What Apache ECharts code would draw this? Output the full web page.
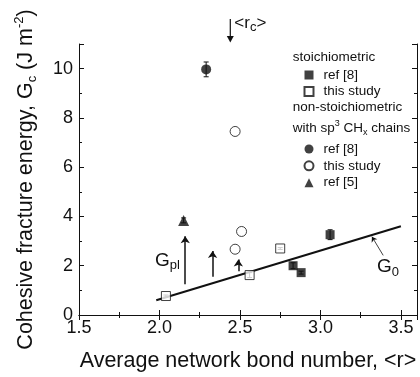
<!DOCTYPE html>
<html>
<head>
<meta charset="utf-8">
<script src="https://cdn.jsdelivr.net/npm/echarts@6/dist/echarts.min.js"></script>
<style>
  html, body { margin: 0; padding: 0; background: #fff; }
  #chart { width: 420px; height: 377px; }
</style>
</head>
<body>
<div id="chart"></div>
<script>
// stoichiometric
const stoichRefX = [2.83, 2.88, 3.06];
const stoichRefY = [2.0, 1.72, 3.26];
const stoichRefErr = [0.12, 0.06, 0.2];
const stoichStudyX = [2.04, 2.56, 2.75];
const stoichStudyY = [0.77, 1.62, 2.7];
const stoichStudyErr = [0.04, 0.1, 0.04];
// non-stoichiometric with sp3 CHx chains
const nonRefX = [2.29];
const nonRefY = [9.97];
const nonRefErr = [0.3];
const nonStudyX = [2.47, 2.51, 2.47];
const nonStudyY = [7.45, 3.39, 2.67];
const ref5X = [2.15];
const ref5Y = [3.84];
const ref5Err = [0.1];
// G0 fit line
const g0X = [1.98, 3.5];
const g0Y = [0.6, 3.6];
// G_pl arrows
const gplX = [2.16, 2.33, 2.49];
const gplFrom = [1.25, 1.55, 1.78];
const gplTo = [3.2, 2.6, 2.25];
// critical <r_c>
const rcX = 2.44;

const font = 'Liberation Sans, Arial, sans-serif';
const ink = '#111';

const zip = (xs, ys) => xs.map((x, i) => [x, ys[i]]);
const zip3 = (xs, ys, es) => xs.map((x, i) => [x, ys[i], es[i]]);

const chart = echarts.init(document.getElementById('chart'));

function errorBar(params, api) {
  const x = api.value(0), y = api.value(1), e = api.value(2);
  const hi = api.coord([x, y + e]);
  const lo = api.coord([x, y - e]);
  const w = 2.5;
  const st = { stroke: ink, lineWidth: 1 };
  return {
    type: 'group',
    children: [
      { type: 'line', shape: { x1: hi[0], y1: hi[1], x2: lo[0], y2: lo[1] }, style: st },
      { type: 'line', shape: { x1: hi[0] - w, y1: hi[1], x2: hi[0] + w, y2: hi[1] }, style: st },
      { type: 'line', shape: { x1: lo[0] - w, y1: lo[1], x2: lo[0] + w, y2: lo[1] }, style: st }
    ]
  };
}

const subRich = {
  sub: { fontSize: 13, fontFamily: font, color: ink, verticalAlign: 'bottom', lineHeight: 13 },
  sup: { fontSize: 13, fontFamily: font, color: ink, verticalAlign: 'top', lineHeight: 13 }
};

const legendNames = {
  s_ref8: 'ref [8]',
  s_study: 'this study',
  n_ref8: 'ref [8]',
  n_study: 'this study',
  ref5: 'ref [5]'
};

const axisCommon = {
  axisLine: { lineStyle: { color: ink, width: 1 } },
  axisTick: { inside: true, length: 5, lineStyle: { color: ink } },
  minorTick: { show: true, splitNumber: 2, length: 3, lineStyle: { color: ink } },
  splitLine: { show: false }
};

const openStyle = { color: '#fff', borderColor: ink, borderWidth: 1 };
const filledStyle = { color: ink };

chart.setOption({
  animation: false,
  grid: { left: 79, top: 44, right: 3, bottom: 60 },
  xAxis: [
    Object.assign({}, axisCommon, {
      type: 'value', min: 1.5, max: 3.6, interval: 0.5,
      axisLabel: {
        fontSize: 18, fontFamily: font, color: ink, margin: 4, showMaxLabel: false,
        formatter: v => v.toFixed(1)
      },
      name: 'Average network bond number, <r>',
      nameLocation: 'middle', nameGap: 35,
      nameTextStyle: { fontSize: 21.5, fontFamily: font, color: ink }
    }),
    Object.assign({}, axisCommon, {
      type: 'value', min: 1.5, max: 3.6, interval: 0.5, position: 'top',
      axisLabel: { show: false }
    })
  ],
  yAxis: [
    Object.assign({}, axisCommon, {
      type: 'value', min: 0, max: 11, interval: 2,
      axisLabel: { fontSize: 18, fontFamily: font, color: ink, margin: 6, showMaxLabel: false },
      name: 'Cohesive fracture energy, G{sub|c} (J m{sup|-2})',
      nameLocation: 'middle', nameGap: 40,
      nameTextStyle: { fontSize: 21.5, fontFamily: font, color: ink, lineHeight: 26, rich: subRich }
    }),
    Object.assign({}, axisCommon, {
      type: 'value', min: 0, max: 11, interval: 2, position: 'right',
      axisLabel: { show: false }
    })
  ],
  legend: [
    {
      data: ['s_ref8', 's_study'],
      orient: 'vertical', left: 303.5, top: 68, padding: 0,
      itemWidth: 9, itemHeight: 9, itemGap: 2.5, selectedMode: false,
      formatter: n => legendNames[n],
      textStyle: { fontSize: 13.5, fontFamily: font, color: ink, lineHeight: 14, padding: [0, 0, 0, 5] }
    },
    {
      data: ['n_ref8', 'n_study', 'ref5'],
      orient: 'vertical', left: 303.5, top: 142, padding: 0,
      itemWidth: 9, itemHeight: 9, itemGap: 2.85, selectedMode: false,
      formatter: n => legendNames[n],
      textStyle: { fontSize: 13.5, fontFamily: font, color: ink, lineHeight: 14, padding: [0, 0, 0, 5] }
    }
  ],
  series: [
    {
      name: 'G0', type: 'line', data: zip(g0X, g0Y), showSymbol: false,
      lineStyle: { color: ink, width: 2 }, z: 2,
      markLine: {
        silent: true, animation: false,
        symbol: ['none', 'arrow'], symbolSize: 7,
        label: { show: false },
        lineStyle: { color: ink, width: 1.5, type: 'solid' },
        data: gplX.map((x, i) => [
          { coord: [x, gplFrom[i]], symbol: 'none' },
          { coord: [x, gplTo[i]], symbol: 'arrow', symbolSize: 7 }
        ]).concat([
          [{ coord: [3.39, 2.42], symbol: 'none' },
           { coord: [3.32, 3.18], symbol: 'arrow', symbolSize: 5, lineStyle: { width: 0.8 } }]
        ])
      }
    },
    {
      type: 'custom', renderItem: errorBar, z: 3,
      data: zip3(stoichRefX, stoichRefY, stoichRefErr)
        .concat(zip3(stoichStudyX, stoichStudyY, stoichStudyErr))
        .concat(zip3(nonRefX, nonRefY, nonRefErr))
        .concat(zip3(ref5X, ref5Y, ref5Err))
    },
    { name: 's_ref8', type: 'scatter', symbol: 'rect', symbolSize: 9, z: 5, itemStyle: filledStyle, data: zip(stoichRefX, stoichRefY) },
    { name: 's_study', type: 'scatter', symbol: 'rect', symbolSize: 9, z: 5, itemStyle: openStyle, data: zip(stoichStudyX, stoichStudyY) },
    { name: 'n_ref8', type: 'scatter', symbol: 'circle', symbolSize: 10, z: 5, itemStyle: filledStyle, data: zip(nonRefX, nonRefY) },
    { name: 'n_study', type: 'scatter', symbol: 'circle', symbolSize: 10, z: 5, itemStyle: openStyle, data: zip(nonStudyX, nonStudyY) },
    { name: 'ref5', type: 'scatter', symbol: 'triangle', symbolSize: 11, z: 5, itemStyle: filledStyle, data: zip(ref5X, ref5Y) }
  ]
});

// annotations placed from data coordinates
const px = v => chart.convertToPixel({ gridIndex: 0 }, v);
const gplPos = px([2.05, 2.22]);
const g0Pos = px([3.42, 1.96]);
const rcPix = px([rcX, 11]);
const textStyle = (extra) => Object.assign({ fontFamily: font, fill: ink, rich: subRich }, extra);

chart.setOption({
  graphic: [
    { type: 'text', left: 292.7, top: 50, style: textStyle({ text: 'stoichiometric', fontSize: 13.5 }) },
    { type: 'text', left: 292.7, top: 100.5, style: textStyle({ text: 'non-stoichiometric', fontSize: 13.5 }) },
    {
      type: 'text', left: 292.7, top: 119, style: {
        text: 'with sp{sup|3} CH{sub|x} chains', fontSize: 13.5, fontFamily: font, fill: ink, lineHeight: 18,
        rich: {
          sub: { fontSize: 9, fontFamily: font, fill: ink, verticalAlign: 'bottom', lineHeight: 9 },
          sup: { fontSize: 9, fontFamily: font, fill: ink, verticalAlign: 'top', lineHeight: 9 }
        }
      }
    },
    {
      type: 'text', x: gplPos[0], y: gplPos[1],
      style: textStyle({ text: 'G{sub|pl}', fontSize: 19, lineHeight: 24, align: 'center', verticalAlign: 'middle' })
    },
    {
      type: 'text', x: g0Pos[0], y: g0Pos[1],
      style: textStyle({ text: 'G{sub|0}', fontSize: 19, lineHeight: 24, align: 'center', verticalAlign: 'middle' })
    },
    {
      type: 'text', x: rcPix[0] + 4, y: 23,
      style: textStyle({ text: '<r{sub|c}>', fontSize: 17, lineHeight: 22, align: 'left', verticalAlign: 'middle' })
    },
    {
      type: 'line', shape: { x1: rcPix[0], y1: 19, x2: rcPix[0], y2: rcPix[1] - 4 },
      style: { stroke: ink, lineWidth: 1.2 }
    },
    {
      type: 'polygon',
      shape: { points: [[rcPix[0] - 3.5, rcPix[1] - 8], [rcPix[0] + 3.5, rcPix[1] - 8], [rcPix[0], rcPix[1] - 1.5]] },
      style: { fill: ink }
    }
  ]
});
</script>
</body>
</html>
